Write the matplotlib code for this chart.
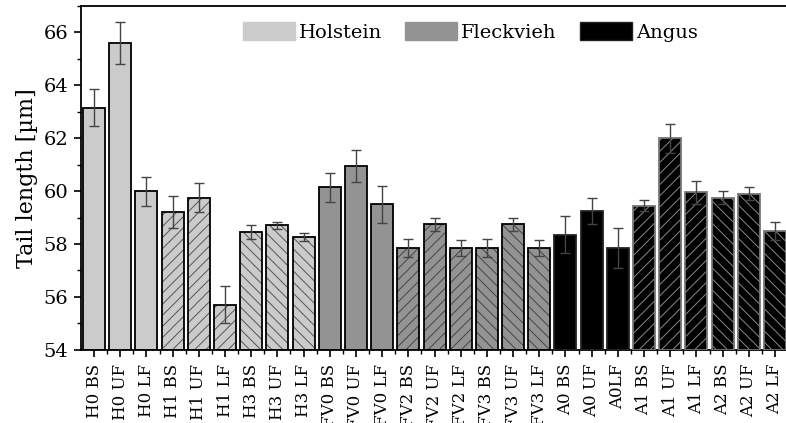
import numpy as np
import matplotlib
matplotlib.use("Agg")
import matplotlib.pyplot as plt
from matplotlib.patches import Patch
from matplotlib.ticker import MultipleLocator

# ── data ─────────────────────────────────────────────────────────
labels = ["H0 BS", "H0 UF", "H0 LF", "H1 BS", "H1 UF", "H1 LF",
          "H3 BS", "H3 UF", "H3 LF",
          "FV0 BS", "FV0 UF", "FV0 LF", "FV2 BS", "FV2 UF", "FV2 LF",
          "FV3 BS", "FV3 UF", "FV3 LF",
          "A0 BS", "A0 UF", "A0LF", "A1 BS", "A1 UF", "A1 LF",
          "A2 BS", "A2 UF", "A2 LF"]
tail_len = [63.15, 65.6, 60.0, 59.2, 59.75, 55.7, 58.45, 58.7, 58.25,
            60.15, 60.95, 59.5, 57.85, 58.75, 57.85, 57.85, 58.75, 57.85,
            58.35, 59.25, 57.85, 59.45, 62.0, 59.95, 59.75, 59.9, 58.5]
tail_err = [0.7, 0.8, 0.55, 0.6, 0.55, 0.7, 0.25, 0.15, 0.15,
            0.55, 0.6, 0.7, 0.35, 0.25, 0.3, 0.35, 0.25, 0.3,
            0.7, 0.5, 0.75, 0.2, 0.55, 0.45, 0.25, 0.25, 0.35]
breeds = ["Holstein", "Fleckvieh", "Angus"]

# ── styles ───────────────────────────────────────────────────────
breed_color = {"Holstein": "#cbcbcb", "Fleckvieh": "#939393", "Angus": "#000000"}
hatch_color = {"Holstein": "#555555", "Fleckvieh": "#444444", "Angus": "#8a8a8a"}
edge_color = {"Holstein": "#000000", "Fleckvieh": "#000000", "Angus": "#777777"}
group_hatch = ["", "///", "\\\\\\"]

plt.rcParams["font.family"] = ["DejaVu Serif"]
plt.rcParams["hatch.linewidth"] = 0.7

fig = plt.figure(figsize=(7.86, 4.23), dpi=100)
ax = fig.add_axes([0.103, 0.173, 0.897, 0.813])

x = np.arange(len(labels))
for i, (xi, v) in enumerate(zip(x, tail_len)):
    breed = breeds[i // 9]
    hatch = group_hatch[(i % 9) // 3]
    # fill + hatch
    ax.bar(xi, v - 54, bottom=54, width=0.84, color=breed_color[breed],
           hatch=hatch, edgecolor=hatch_color[breed], linewidth=0, zorder=2)
    # outline
    ec = edge_color[breed] if hatch else ("#222222" if breed == "Angus" else "#000000")
    ax.bar(xi, v - 54, bottom=54, width=0.84, fill=False,
           edgecolor=ec, linewidth=1.3, zorder=3)

ax.errorbar(x, tail_len, yerr=tail_err, fmt="none", ecolor="#444444",
            elinewidth=1.0, capsize=3.5, capthick=1.0, zorder=4)

ax.set_ylim(54, 67)
ax.set_xlim(-0.5, 26.42)
ax.yaxis.set_major_locator(MultipleLocator(2))
ax.yaxis.set_minor_locator(MultipleLocator(1))
ax.set_xticks(x)
ax.set_xticks(x[:-1] + 0.5, minor=True)
ax.set_xticklabels(labels, rotation=90, fontsize=12)
ax.tick_params(axis="y", labelsize=14, pad=4)
ax.tick_params(axis="x", pad=5)
ax.tick_params(which="major", direction="out", length=5, width=1.2)
ax.tick_params(which="minor", direction="out", length=3, width=1.0)
ax.set_ylabel("Tail length [µm]", fontsize=16)

for s in ["left", "bottom", "top"]:
    ax.spines[s].set_linewidth(1.3)
ax.spines["right"].set_visible(False)

handles = [Patch(facecolor=breed_color[b],
                 edgecolor=breed_color[b] if b != "Angus" else "#222222",
                 label=b) for b in breeds]
fig.legend(handles=handles, loc="center left", bbox_to_anchor=(0.309, 0.925),
           ncol=3, frameon=False, fontsize=14, handlelength=2.67,
           handleheight=1.08, handletextpad=0.2, columnspacing=1.2,
           borderpad=0, borderaxespad=0)

fig.savefig("out.png", dpi=100)
